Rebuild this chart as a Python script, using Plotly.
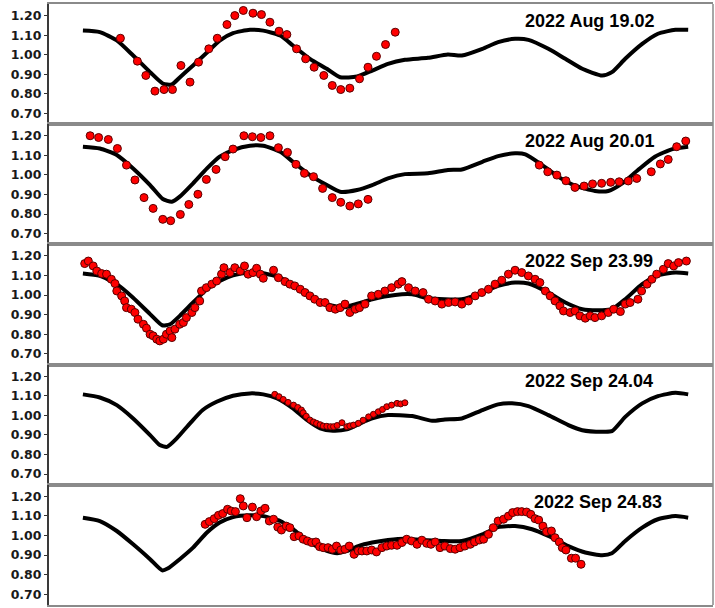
import plotly.graph_objects as go
from plotly.subplots import make_subplots

# ---------------- data (rotational phase, relative flux) ----------------
titles = ["2022 Aug 19.02", "2022 Aug 20.01", "2022 Sep 23.99", "2022 Sep 24.04", "2022 Sep 24.83"]
yticks = [0.70, 0.80, 0.90, 1.00, 1.10, 1.20]

m1_phase = [0.000,0.028,0.056,0.083,0.111,0.132,0.147,0.160,0.182,0.205,0.226,0.248,0.276,0.298,0.326,0.347,0.375,0.403,0.425,0.453,0.478,0.504,0.532,0.570,0.603,0.626,0.660,0.686,0.714,0.736,0.769,0.797,0.825,0.858,0.874,0.896,0.924,0.950,0.979,1.000]
m1_flux = [1.123,1.115,1.073,0.996,0.911,0.853,0.848,0.884,0.945,1.011,1.072,1.110,1.127,1.123,1.098,1.047,0.979,0.928,0.885,0.889,0.919,0.953,0.974,0.984,1.001,0.996,1.030,1.064,1.081,1.076,1.030,0.979,0.928,0.894,0.911,0.979,1.055,1.107,1.127,1.127]

m2_phase = [0.000,0.028,0.056,0.083,0.111,0.132,0.147,0.160,0.182,0.205,0.226,0.248,0.276,0.298,0.326,0.347,0.375,0.403,0.425,0.453,0.478,0.504,0.532,0.570,0.603,0.626,0.660,0.686,0.714,0.731,0.759,0.785,0.813,0.846,0.868,0.891,0.917,0.945,0.974,1.000]
m2_flux = [1.144,1.135,1.102,1.033,0.948,0.877,0.863,0.889,0.957,1.033,1.093,1.127,1.149,1.149,1.118,1.067,0.999,0.948,0.914,0.923,0.948,0.982,1.004,1.008,1.025,1.028,1.067,1.096,1.110,1.105,1.050,0.991,0.945,0.918,0.918,0.957,1.025,1.093,1.132,1.144]

m3_phase = [0.000,0.028,0.056,0.083,0.111,0.131,0.144,0.160,0.182,0.205,0.226,0.248,0.276,0.298,0.326,0.347,0.375,0.403,0.430,0.455,0.478,0.516,0.544,0.570,0.626,0.660,0.686,0.714,0.736,0.769,0.797,0.825,0.858,0.874,0.896,0.924,0.950,0.979,1.000]
m3_flux = [1.110,1.098,1.056,0.987,0.903,0.846,0.851,0.894,0.962,1.030,1.072,1.101,1.115,1.112,1.089,1.047,0.996,0.954,0.937,0.957,0.979,1.001,1.004,0.984,0.979,1.013,1.047,1.064,1.059,1.013,0.962,0.928,0.923,0.928,0.979,1.056,1.101,1.115,1.110]

m4_phase = [0.000,0.028,0.056,0.083,0.111,0.127,0.139,0.155,0.177,0.198,0.221,0.248,0.276,0.298,0.321,0.347,0.370,0.392,0.413,0.436,0.455,0.478,0.504,0.544,0.577,0.598,0.626,0.660,0.686,0.709,0.736,0.769,0.802,0.825,0.858,0.874,0.896,0.924,0.950,0.979,1.000]
m4_flux = [1.107,1.091,1.052,0.984,0.899,0.848,0.839,0.882,0.959,1.027,1.069,1.100,1.112,1.107,1.086,1.035,0.976,0.933,0.921,0.928,0.954,0.984,1.001,0.996,0.972,0.979,0.984,1.027,1.056,1.061,1.047,1.001,0.950,0.924,0.916,0.919,0.992,1.061,1.098,1.115,1.107]

m5_phase = [0.000,0.028,0.056,0.083,0.111,0.131,0.140,0.160,0.182,0.205,0.226,0.248,0.276,0.298,0.326,0.347,0.375,0.403,0.420,0.436,0.455,0.478,0.504,0.532,0.560,0.593,0.626,0.660,0.686,0.714,0.742,0.769,0.802,0.830,0.858,0.874,0.896,0.924,0.950,0.979,1.000]
m5_flux = [1.091,1.074,1.023,0.955,0.879,0.822,0.831,0.879,0.938,1.015,1.066,1.094,1.103,1.099,1.074,1.032,0.964,0.921,0.909,0.921,0.946,0.964,0.977,0.984,0.977,0.972,0.972,1.006,1.043,1.048,1.032,0.998,0.946,0.913,0.899,0.909,0.972,1.040,1.083,1.099,1.091]

o1_phase = [0.062,0.090,0.104,0.119,0.134,0.148,0.162,0.177,0.191,0.208,0.222,0.238,0.251,0.265,0.281,0.295,0.309,0.324,0.337,0.353,0.368,0.382,0.398,0.412,0.426,0.441,0.457,0.471,0.485,0.500,0.516]
o1_flux = [1.084,0.967,0.894,0.814,0.822,0.822,0.945,0.860,0.962,1.030,1.084,1.154,1.200,1.226,1.212,1.205,1.166,1.120,1.103,1.030,0.979,0.936,0.894,0.843,0.822,0.829,0.877,0.936,0.992,1.052,1.115]

o2_phase = [0.012,0.026,0.042,0.057,0.072,0.086,0.101,0.116,0.132,0.145,0.161,0.175,0.190,0.204,0.220,0.235,0.248,0.266,0.280,0.294,0.309,0.323,0.338,0.352,0.366,0.381,0.396,0.412,0.426,0.441,0.455,0.471,
            0.754,0.768,0.783,0.798,0.813,0.828,0.842,0.857,0.872,0.886,0.901,0.915,0.939,0.954,0.967,0.981,0.996]
o2_flux = [1.200,1.191,1.181,1.135,1.050,0.974,0.884,0.829,0.773,0.766,0.798,0.849,0.901,0.977,1.028,1.093,1.132,1.200,1.195,1.191,1.200,1.139,1.115,1.054,1.008,0.991,0.931,0.884,0.860,0.841,0.852,0.875,
           1.050,1.016,0.999,0.970,0.936,0.943,0.954,0.957,0.962,0.965,0.969,0.982,1.016,1.056,1.079,1.144,1.173]

o3_phase = [0.003,0.009,0.017,0.023,0.031,0.039,0.047,0.053,0.056,0.064,0.069,0.072,0.080,0.086,0.091,0.100,0.105,0.111,0.116,0.122,0.127,0.133,0.138,0.144,0.147,0.152,0.160,0.166,0.171,0.180,0.185,0.193,0.196,0.204,0.213,0.221,0.229,0.233,0.243,0.251,0.260,0.267,0.273,0.281,0.287,0.293,0.298,0.315,0.323,0.334,0.342,0.350,0.359,0.367,0.375,0.383,0.392,0.400,0.408,0.417,0.425,0.433,0.441,0.450,0.457,
            0.466,0.477,0.488,0.499,0.510,0.521,0.527,0.538,0.549,0.562,0.571,0.582,0.593,0.604,0.615,0.626,0.637,0.648,0.659,0.670,0.681,0.692,0.703,0.714,0.725,0.736,0.747,0.755,0.764,0.772,0.780,0.788,0.794,0.805,0.813,0.821,0.830,0.838,0.846,0.857,0.868,0.877,0.888,0.896,0.904,0.917,0.923,0.932,0.940,0.948,0.959,0.967,0.976,0.984,0.997]
o3_flux = [1.161,1.174,1.149,1.123,1.110,1.107,1.081,1.059,1.021,0.996,0.970,0.936,0.928,0.911,0.877,0.851,0.831,0.800,0.792,0.775,0.766,0.775,0.800,0.817,0.783,0.826,0.851,0.860,0.885,0.911,0.936,0.970,1.021,1.038,1.056,1.072,1.107,1.140,1.115,1.140,1.123,1.149,1.107,1.115,1.137,1.107,1.086,1.127,1.089,1.069,1.056,1.047,1.030,1.013,0.996,0.979,0.962,0.962,0.936,0.928,0.936,0.954,0.911,0.928,0.936,
           0.954,0.996,1.004,1.021,1.038,1.056,1.069,1.038,1.021,1.013,0.979,0.970,0.954,0.962,0.965,0.954,0.970,0.996,1.013,1.030,1.056,1.076,1.107,1.127,1.115,1.098,1.081,1.064,1.021,0.996,0.970,0.945,0.919,0.911,0.919,0.894,0.882,0.894,0.885,0.894,0.911,0.928,0.916,0.954,0.962,0.979,1.021,1.056,1.081,1.107,1.132,1.161,1.149,1.166,1.174]

o4_phase = [0.317,0.324,0.331,0.339,0.348,0.355,0.361,0.364,0.369,0.375,0.381,0.386,0.392,0.397,0.403,0.409,0.414,0.420,0.428,0.436,0.441,0.447,0.455,0.463,0.472,0.480,0.488,0.495,0.502,0.510,0.519,0.525,0.532]
o4_flux = [1.107,1.095,1.081,1.066,1.052,1.040,1.027,1.013,0.995,0.976,0.966,0.959,0.952,0.945,0.944,0.942,0.942,0.948,0.962,0.942,0.946,0.950,0.959,0.975,0.992,1.005,1.018,1.030,1.044,1.052,1.061,1.058,1.064]

o5_phase = [0.202,0.209,0.217,0.224,0.231,0.239,0.245,0.252,0.260,0.265,0.271,0.280,0.287,0.294,0.301,0.308,0.315,0.322,0.328,0.336,0.342,0.349,0.357,0.364,0.371,0.378,0.385,0.391,0.397,0.405,0.412,0.419,0.426,0.433,0.440,0.448,0.455,
            0.461,0.469,0.477,0.485,0.494,0.502,0.510,0.519,0.527,0.535,0.543,0.552,0.560,0.568,0.575,0.582,0.590,0.598,0.607,0.615,0.623,0.631,0.640,0.647,0.655,0.662,0.670,0.678,0.686,0.695,0.703,0.710,0.718,0.725,0.733,0.740,0.747,0.753,0.760,0.766,0.774,0.780,0.787,0.792,0.798,0.807,0.814,0.823]
o5_flux = [1.057,1.071,1.086,1.103,1.112,1.134,1.125,1.122,1.188,1.151,1.091,1.145,1.096,1.125,1.139,1.074,1.083,1.043,1.028,1.048,1.040,0.994,0.998,0.981,0.972,0.964,0.967,0.943,0.938,0.938,0.930,0.946,0.926,0.930,0.946,0.904,0.921,
           0.921,0.921,0.926,0.916,0.938,0.946,0.950,0.950,0.964,0.981,0.972,0.955,0.976,0.960,0.955,0.967,0.938,0.946,0.933,0.930,0.938,0.946,0.955,0.967,0.977,0.981,1.006,1.040,1.074,1.083,1.099,1.117,1.122,1.122,1.120,1.108,1.086,1.079,1.048,1.020,1.023,0.989,0.967,0.938,0.926,0.884,0.884,0.853]

models = [(m1_phase, m1_flux), (m2_phase, m2_flux), (m3_phase, m3_flux), (m4_phase, m4_flux), (m5_phase, m5_flux)]
obs = [(o1_phase, o1_flux), (o2_phase, o2_flux), (o3_phase, o3_flux), (o4_phase, o4_flux), (o5_phase, o5_flux)]
obs_size = [8, 8, 8, 6, 8]
title_x = [0.914, 0.914, 0.912, 0.912, 0.926]

# ---------------- figure ----------------
fig = make_subplots(rows=5, cols=1, shared_xaxes=True, vertical_spacing=0)

for i in range(5):
    r = i + 1
    mp, mf = models[i]
    op, of = obs[i]
    fig.add_trace(go.Scatter(x=mp, y=mf, mode="lines",
                             line=dict(color="black", width=4, shape="spline", smoothing=0.6),
                             showlegend=False, hoverinfo="skip"), row=r, col=1)
    fig.add_trace(go.Scatter(x=op, y=of, mode="markers",
                             marker=dict(color="#ff0000", size=obs_size[i],
                                         line=dict(color="#5a0000", width=1)),
                             showlegend=False), row=r, col=1)
    fig.add_annotation(text="<b>" + titles[i] + "</b>", xref="paper",
                       yref=("y domain" if r == 1 else f"y{r} domain"),
                       x=title_x[i], y=0.86, xanchor="right", yanchor="middle",
                       showarrow=False,
                       font=dict(family="Liberation Sans, Arial", size=18, color="black"))

fig.update_xaxes(range=[-0.056, 1.041], showticklabels=False, ticks="", showgrid=False,
                 zeroline=False, showline=True, mirror=True, linecolor="#8a8a8a", linewidth=1.5)
fig.update_yaxes(range=[0.645, 1.259], tickvals=yticks, tickformat=".2f", ticks="outside",
                 ticklen=3, tickwidth=1, tickcolor="#333333",
                 showgrid=False, zeroline=False, showline=True, mirror=False,
                 linecolor="#3a3a3a", linewidth=2,
                 tickfont=dict(family="DejaVu Sans", size=12.5, color="#1a1a1a", weight="bold"))

fig.add_shape(type="line", xref="paper", yref="paper", x0=1, x1=1, y0=0, y1=1,
              line=dict(color="#8a8a8a", width=1.5))

fig.update_layout(width=715, height=608, margin=dict(l=49, r=2, t=2, b=3),
                  plot_bgcolor="white", paper_bgcolor="white")

fig.write_html("out.html", config={"displayModeBar": False},
               post_script="document.body.style.margin='0';document.body.style.overflow='hidden';")
